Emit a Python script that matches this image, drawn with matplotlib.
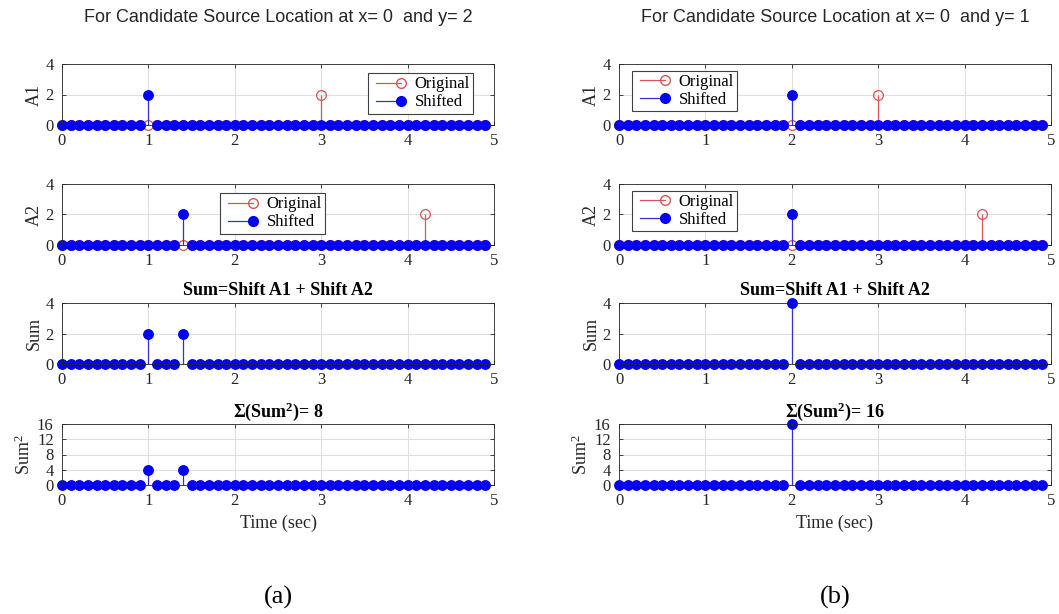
import numpy as np
import matplotlib.pyplot as plt
from matplotlib.legend_handler import HandlerLine2D
from matplotlib.lines import Line2D

SERIF = "Liberation Serif"
plt.rcParams["mathtext.fontset"] = "custom"
plt.rcParams["mathtext.rm"] = SERIF
plt.rcParams["mathtext.it"] = SERIF + ":italic"
plt.rcParams["mathtext.bf"] = SERIF + ":bold"

# sample grid: 50 samples, 0.1 s apart
t = np.round(np.arange(50) * 0.1, 1)

# spikes (time, height) for each candidate location
a1_orig = [(3.0, 2)]
a2_orig = [(4.2, 2)]
a1_shift_a = [(1.0, 2)]
a2_shift_a = [(1.4, 2)]
a1_shift_b = [(2.0, 2)]
a2_shift_b = [(2.0, 2)]

titles = ["For Candidate Source Location at x= 0  and y= 2",
          "For Candidate Source Location at x= 0  and y= 1"]
panel_tags = ["(a)", "(b)"]
# upper-left corner of each legend, axes fraction
legend_anchor = [[(0.708, 0.85), (0.366, 0.85)],
                 [(0.03, 0.89), (0.03, 0.89)]]

RED = (0.85, 0.33, 0.33)
BLUE = (0.0, 0.0, 0.95)
STEM_BLUE = (0.2, 0.2, 0.8)


def signal(spikes):
    y = np.zeros(len(t))
    for tt, h in spikes:
        y[np.argmin(np.abs(t - tt))] = h
    return y


class EndMarker(HandlerLine2D):
    # line with marker on its right end
    def create_artists(self, legend, orig_handle, xdescent, ydescent,
                       width, height, fontsize, trans):
        arts = super().create_artists(legend, orig_handle, xdescent, ydescent,
                                      width, height, fontsize, trans)
        for a in arts:
            a.set_markevery([1])
        return arts


def style(ax, ylim, yticks, ylabel):
    ax.set_xlim(0, 5)
    ax.set_ylim(*ylim)
    ax.set_xticks(range(6))
    ax.set_yticks(yticks)
    ax.grid(True, color="0.88", lw=0.8)
    ax.set_axisbelow(True)
    ax.tick_params(direction="in", top=True, right=True, length=3, pad=6,
                   labelsize=12, colors="0.15", width=0.6)
    for lab in ax.get_xticklabels() + ax.get_yticklabels():
        lab.set_fontfamily(SERIF)
    for s in ax.spines.values():
        s.set_color("0.15")
        s.set_linewidth(0.6)
    ax.set_ylabel(ylabel, fontfamily=SERIF, fontsize=13, labelpad=2,
                  color="0.15")


def stem(ax, y, color, line_color, hollow=False):
    ml, sl, bl = ax.stem(t, y, basefmt=" ")
    sl.set_color(line_color)
    sl.set_linewidth(0.9)
    ml.set_color(color)
    ml.set_markersize(7 if hollow else 6.8)
    if hollow:
        ml.set_markerfacecolor("none")
        ml.set_markeredgewidth(0.9)
    ml.set_clip_on(False)
    sl.set_clip_on(False)


W, H = 1059, 614
fig = plt.figure(figsize=(W / 100, H / 100), dpi=100)

lefts = [62, 619]
width = 432
tops = [64, 184, 303, 424]
bottoms = [125, 245, 364, 485]

cases = [(a1_shift_a, a2_shift_a), (a1_shift_b, a2_shift_b)]

for c in range(2):
    s1 = signal(cases[c][0])
    s2 = signal(cases[c][1])
    total = s1 + s2
    sq = total ** 2
    axes = []
    for r in range(4):
        ax = fig.add_axes([lefts[c] / W, 1 - bottoms[r] / H, width / W,
                           (bottoms[r] - tops[r]) / H])
        axes.append(ax)

    for r, (orig, sh, name) in enumerate([(signal(a1_orig), s1, "A1"),
                                          (signal(a2_orig), s2, "A2")]):
        ax = axes[r]
        stem(ax, orig, RED, RED, hollow=True)
        stem(ax, sh, BLUE, STEM_BLUE)
        style(ax, (0, 4), [0, 2, 4], name)
        handles = [Line2D([], [], color=RED, marker="o", mfc="none", ms=7, lw=0.9),
                   Line2D([], [], color=STEM_BLUE, marker="o", mfc=BLUE,
                          mec=BLUE, ms=7, lw=0.9)]
        leg = ax.legend(handles, ["Original", "Shifted"], numpoints=2,
                        handler_map={Line2D: EndMarker(numpoints=2)},
                        loc="upper left", bbox_to_anchor=legend_anchor[c][r],
                        prop={"family": SERIF, "size": 12}, fancybox=False,
                        framealpha=1, edgecolor="0.25", borderpad=0.2,
                        labelspacing=0.12, handlelength=2.1, handletextpad=0.5,
                        borderaxespad=0.0)
        leg.get_frame().set_linewidth(0.8)

    stem(axes[2], total, BLUE, STEM_BLUE)
    style(axes[2], (0, 4), [0, 2, 4], "Sum")
    axes[2].set_title("Sum=Shift A1 + Shift A2", fontfamily=SERIF,
                      fontweight="bold", fontsize=13, pad=6)

    stem(axes[3], sq, BLUE, STEM_BLUE)
    style(axes[3], (0, 16), [0, 4, 8, 12, 16], "Sum$^2$")
    axes[3].set_title(r"$\mathbf{\Sigma}$(Sum$^\mathbf{2}$)= %d" % int(sq.sum()),
                      fontfamily=SERIF, fontweight="bold", fontsize=13, pad=5)
    axes[3].set_xlabel("Time (sec)", fontfamily=SERIF, fontsize=13,
                      labelpad=4, color="0.15")

    cx = (lefts[c] + width / 2) / W
    fig.text(cx, 1 - 17 / H, titles[c], ha="center", va="center",
             fontfamily="Liberation Sans", fontsize=13, color="0.15")
    fig.text(cx, 1 - 597 / H, panel_tags[c], ha="center", va="center",
             fontfamily=SERIF, fontsize=19)

fig.savefig("out.png", dpi=100)
